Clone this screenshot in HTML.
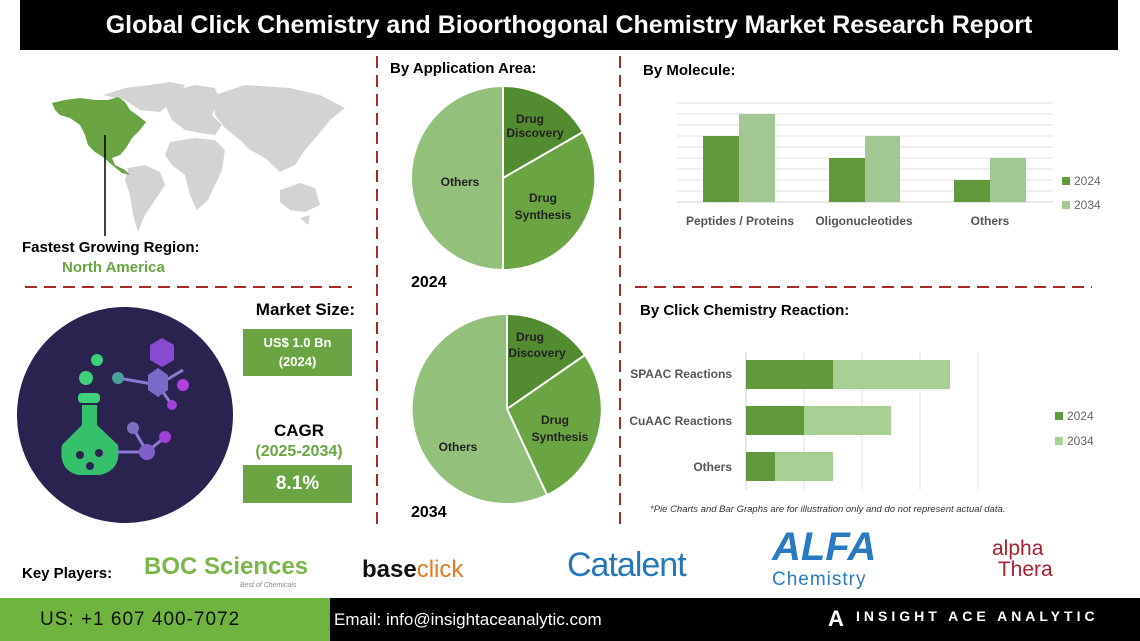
<!DOCTYPE html>
<html><head><meta charset="utf-8"><style>
body{margin:0;width:1140px;height:641px;background:#fff;position:relative;overflow:hidden;font-family:"Liberation Sans",sans-serif}
.a{position:absolute}
</style></head><body>
<div class="a" style="left:20px;top:0;width:1098px;height:50px;background:#000;color:#fff;font-weight:bold;font-size:25px;text-align:center;line-height:50px">Global Click Chemistry and Bioorthogonal Chemistry Market Research Report</div>
<svg class="a" style="left:0;top:0" width="1140" height="641">
<g stroke="#a52a2a" stroke-width="2" stroke-dasharray="12,7">
<line x1="377" y1="56" x2="377" y2="525"/><line x1="620" y1="56" x2="620" y2="525"/>
<line x1="25" y1="287" x2="352" y2="287"/><line x1="635" y1="287" x2="1092" y2="287"/>
</g>
<!-- map -->
<g fill="#d3d3d3">
<path d="M103,95 L125,88 L150,85 L170,82 L185,85 L175,100 L160,112 L140,110 L125,100Z"/>
<path d="M168,92 L195,85 L215,88 L220,100 L212,115 L222,125 L215,135 L200,133 L185,130 L172,120 L165,105Z"/>
<path d="M215,95 L245,85 L290,88 L320,95 L345,108 L330,120 L318,135 L305,150 L295,165 L280,172 L265,158 L250,150 L240,140 L225,128 L215,115Z"/>
<path d="M170,142 L195,138 L215,140 L225,150 L222,170 L215,185 L208,200 L197,210 L190,195 L185,175 L172,165 L165,155Z"/>
<path d="M128,168 L145,165 L160,172 L165,185 L155,200 L145,215 L138,232 L133,215 L130,195 L125,180Z"/>
<path d="M280,190 L300,183 L315,188 L320,205 L305,212 L290,210 L280,202Z"/>
<path d="M300,218 L310,215 L308,225Z"/>
</g>
<g fill="#6aa443">
<path d="M52,103 L65,100 L80,98 L95,100 L108,100 L118,97 L125,102 L130,110 L137,115 L146,122 L140,130 L132,138 L126,148 L120,155 L112,158 L115,165 L125,170 L130,175 L122,173 L112,165 L103,157 L95,152 L88,145 L85,135 L80,125 L70,118 L60,115 L55,110Z"/>
</g>
<line x1="105" y1="135" x2="105" y2="236" stroke="#000" stroke-width="1.5"/>
<!-- circle icon -->
<circle cx="125" cy="415" r="108" fill="#2a2350"/>
<circle cx="86" cy="378" r="7" fill="#3ed07a"/><circle cx="97" cy="360" r="6" fill="#3ed07a"/>
<rect x="78" y="393" width="22" height="10" rx="4" fill="#3ed07a"/>
<path d="M82,405 L97,405 L97,425 L118,445 Q122,470 100,475 L78,475 Q58,470 62,445 L82,425Z" fill="#35c06c"/>
<circle cx="80" cy="455" r="4" fill="#2a2350"/><circle cx="99" cy="453" r="4" fill="#2a2350"/><circle cx="90" cy="466" r="4" fill="#2a2350"/>
<g stroke="#8a7ad0" stroke-width="3"><line x1="118" y1="378" x2="158" y2="385"/><line x1="158" y1="385" x2="183" y2="370"/><line x1="158" y1="385" x2="172" y2="405"/><line x1="133" y1="428" x2="147" y2="452"/><line x1="147" y1="452" x2="165" y2="437"/><line x1="118" y1="452" x2="147" y2="452"/></g>
<polygon points="148,375 158,368 168,375 168,390 158,397 148,390" fill="#7a6ac8"/>
<polygon points="150,345 162,338 174,345 174,360 162,367 150,360" fill="#8a4ad0"/>
<circle cx="118" cy="378" r="6" fill="#4aa09a"/><circle cx="183" cy="385" r="6" fill="#b040e0"/><circle cx="172" cy="405" r="5" fill="#a040d8"/>
<circle cx="133" cy="428" r="6" fill="#7a70c0"/><circle cx="147" cy="452" r="8" fill="#8060c8"/><circle cx="165" cy="437" r="6" fill="#a040d8"/>
<!-- pies -->
<g stroke="#fff" stroke-width="2">
<path d="M503,178 L503,86 A92,92 0 0 1 583,132Z" fill="#538b30"/>
<path d="M503,178 L583,132 A92,92 0 0 1 503,270Z" fill="#6aa443"/>
<path d="M503,178 L503,270 A92,92 0 0 1 503,86Z" fill="#93c07a"/>
<path d="M507,409 L507,314 A95,95 0 0 1 585,355Z" fill="#538b30"/>
<path d="M507,409 L585,355 A95,95 0 0 1 547,495Z" fill="#6aa443"/>
<path d="M507,409 L547,495 A95,95 0 1 1 507,314Z" fill="#93c07a"/>
</g>
<g font-family="Liberation Sans,sans-serif" font-size="12" font-weight="bold" fill="#222" text-anchor="middle">
<text x="530" y="123">Drug</text><text x="535" y="137">Discovery</text>
<text x="543" y="202">Drug</text><text x="543" y="219">Synthesis</text>
<text x="460" y="186">Others</text>
<text x="530" y="341">Drug</text><text x="537" y="357">Discovery</text>
<text x="555" y="424">Drug</text><text x="560" y="441">Synthesis</text>
<text x="458" y="451">Others</text>
</g>
<g stroke="#e2e2e2"><line x1="677" y1="103" x2="1053" y2="103"/><line x1="677" y1="114" x2="1053" y2="114"/><line x1="677" y1="125" x2="1053" y2="125"/><line x1="677" y1="136" x2="1053" y2="136"/><line x1="677" y1="147" x2="1053" y2="147"/><line x1="677" y1="158" x2="1053" y2="158"/><line x1="677" y1="169" x2="1053" y2="169"/><line x1="677" y1="180" x2="1053" y2="180"/><line x1="677" y1="191" x2="1053" y2="191"/></g>
<line x1="677" y1="202" x2="1053" y2="202" stroke="#ccc"/>
<rect x="703" y="136" width="36" height="66" fill="#62993d"/><rect x="739" y="114" width="36" height="88" fill="#a3c792"/>
<rect x="829" y="158" width="36" height="44" fill="#62993d"/><rect x="865" y="136" width="35" height="66" fill="#a3c792"/>
<rect x="954" y="180" width="36" height="22" fill="#62993d"/><rect x="990" y="158" width="36" height="44" fill="#a3c792"/>
<g font-size="12" font-weight="bold" fill="#555" text-anchor="middle"><text x="740" y="225">Peptides / Proteins</text><text x="864" y="225">Oligonucleotides</text><text x="990" y="225">Others</text></g>
<rect x="1062" y="177" width="8" height="8" fill="#62993d"/><rect x="1062" y="201" width="8" height="8" fill="#a3c792"/>
<g font-size="12" fill="#666"><text x="1074" y="185">2024</text><text x="1074" y="209">2034</text></g>
<g stroke="#e0e0e0"><line x1="804" y1="352" x2="804" y2="490"/><line x1="862" y1="352" x2="862" y2="490"/><line x1="920" y1="352" x2="920" y2="490"/><line x1="978" y1="352" x2="978" y2="490"/></g>
<line x1="746" y1="352" x2="746" y2="490" stroke="#ccc"/>
<rect x="746" y="360" width="87" height="29" fill="#62993d"/><rect x="833" y="360" width="117" height="29" fill="#a8cf94"/>
<rect x="746" y="406" width="58" height="29" fill="#62993d"/><rect x="804" y="406" width="87" height="29" fill="#a8cf94"/>
<rect x="746" y="452" width="29" height="29" fill="#62993d"/><rect x="775" y="452" width="58" height="29" fill="#a8cf94"/>
<g font-size="12" font-weight="bold" fill="#555" text-anchor="end"><text x="732" y="378">SPAAC Reactions</text><text x="732" y="425">CuAAC Reactions</text><text x="732" y="471">Others</text></g>
<rect x="1055" y="412" width="8" height="8" fill="#62993d"/><rect x="1055" y="437" width="8" height="8" fill="#a8cf94"/>
<g font-size="12" fill="#666"><text x="1067" y="420">2024</text><text x="1067" y="445">2034</text></g>
<text x="650" y="512" font-size="9.5" font-style="italic" fill="#333">*Pie Charts and Bar Graphs are for illustration only and do not represent actual data.</text>
</svg>
<div class="a" style="left:390px;top:60px;font-size:15px;font-weight:bold">By Application Area:</div>
<div class="a" style="left:411px;top:274px;font-size:16px;font-weight:bold">2024</div>
<div class="a" style="left:411px;top:504px;font-size:16px;font-weight:bold">2034</div>
<div class="a" style="left:643px;top:62px;font-size:15px;font-weight:bold">By Molecule:</div>
<div class="a" style="left:640px;top:302px;font-size:15px;font-weight:bold">By Click Chemistry Reaction:</div>
<div class="a" style="left:22px;top:239px;font-size:15px;font-weight:bold">Fastest Growing Region:</div>
<div class="a" style="left:62px;top:259px;font-size:15px;font-weight:bold;color:#6aa443">North America</div>
<div class="a" style="left:243px;top:300px;width:112px;text-align:right;font-size:17px;font-weight:bold">Market Size:</div>
<div class="a" style="left:243px;top:329px;width:109px;height:47px;background:#6aa443;color:#fff;font-size:13px;font-weight:bold;text-align:center;line-height:19px;padding-top:4px;box-sizing:border-box">US$ 1.0 Bn<br>(2024)</div>
<div class="a" style="left:243px;top:421px;width:112px;text-align:center;font-size:17px;font-weight:bold">CAGR</div>
<div class="a" style="left:243px;top:443px;width:112px;text-align:center;font-size:16px;font-weight:bold;color:#6aa443">(2025-2034)</div>
<div class="a" style="left:243px;top:465px;width:109px;height:38px;background:#6aa443;color:#fff;font-size:19px;font-weight:bold;text-align:center;line-height:38px">8.1%</div>
<div class="a" style="left:22px;top:565px;font-size:15px;font-weight:bold">Key Players:</div>
<div class="a" style="left:144px;top:553px;font-size:24px;font-weight:bold;color:#7ab648">BOC Sciences</div>
<div class="a" style="left:240px;top:582px;font-size:7px;font-style:italic;color:#888">Best of Chemicals</div>
<div class="a" style="left:362px;top:556px;font-size:24px;font-weight:bold;color:#111">base<span style="color:#e8781e;font-weight:normal">click</span></div>
<div class="a" style="left:567px;top:546px;font-size:34px;color:#2378b5;letter-spacing:-1px">Catalent</div>
<div class="a" style="left:772px;top:525px;font-size:40px;font-weight:bold;color:#2a7ac0;font-style:italic">ALFA</div>
<div class="a" style="left:772px;top:569px;font-size:19px;color:#2a7ac0;letter-spacing:1px">Chemistry</div>
<div class="a" style="left:992px;top:538px;font-size:21px;color:#a52030;line-height:21px">alpha<br>&nbsp;Thera</div>
<div class="a" style="left:0;top:598px;width:330px;height:43px;background:#6eb43f;font-size:19px;color:#111;line-height:43px;padding-left:40px;box-sizing:border-box;letter-spacing:1px">US: +1 607 400-7072</div>
<div class="a" style="left:330px;top:598px;width:810px;height:43px;background:#000;color:#fff;font-size:17px;line-height:43px;padding-left:4px">Email: info@insightaceanalytic.com</div>
<div class="a" style="left:828px;top:606px;font-size:22px;font-weight:bold;color:#fff">A</div>
<div class="a" style="left:856px;top:608px;font-size:14px;font-weight:bold;color:#fff;letter-spacing:4px">INSIGHT ACE ANALYTIC</div>
</body></html>
